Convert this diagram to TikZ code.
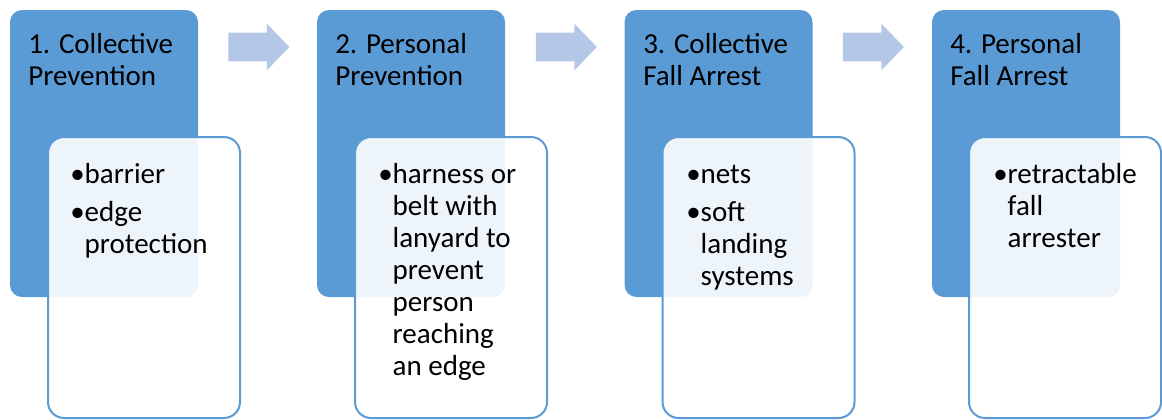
\documentclass[tikz,border=0pt]{standalone}
\usepackage{fontspec}
\setmainfont{Carlito}
\usepackage{tikz}
\usetikzlibrary{shapes.arrows, positioning}
\definecolor{stageblue}{HTML}{5B9BD5}
\definecolor{flowblue}{HTML}{B4C7E7}
\tikzset{
  stage/.style={fill=stageblue, rounded corners=9pt, minimum width=141pt, minimum height=215.25pt, inner sep=0pt},
  detail/.style={draw=stageblue, line width=1.5pt, fill=white, fill opacity=0.9, rounded corners=12pt, minimum width=144pt, minimum height=210.75pt, inner sep=0pt},
  headtext/.style={anchor=base west, inner sep=0pt, font=\fontsize{21.75}{24}\selectfont},
  itemtext/.style={anchor=base west, inner sep=0pt, font=\fontsize{21.75}{24}\selectfont},
  flow/.style={single arrow, fill=flowblue, minimum height=45.75pt, single arrow head extend=6.75pt, single arrow tip angle=92, inner sep=0pt}
}

\begin{document}
\begin{tikzpicture}[x=0.75pt, y=-0.75pt]
\useasboundingbox (0,0) rectangle (1162,419);

% stages
\node[stage] (s1) at (104,153.5) {};
\node[stage] (s2) at (411,153.5) {};
\node[stage] (s3) at (718.5,153.5) {};
\node[stage] (s4) at (1026,153.5) {};

\node[headtext] (h1) at (28,53) {\begin{tabular}[t]{@{}l@{}}1. Collective\\Prevention\end{tabular}};
\node[headtext] (h2) at (335,53) {\begin{tabular}[t]{@{}l@{}}2. Personal\\Prevention\end{tabular}};
\node[headtext] (h3) at (643,53) {\begin{tabular}[t]{@{}l@{}}3. Collective\\Fall Arrest\end{tabular}};
\node[headtext] (h4) at (950,53) {\begin{tabular}[t]{@{}l@{}}4. Personal\\Fall Arrest\end{tabular}};

% details
\node[detail] (d1) at (144,277.5) {};
\node[detail] (d2) at (451,277.5) {};
\node[detail] (d3) at (758.5,277.5) {};
\node[detail] (d4) at (1065,277.5) {};

\node[itemtext] (i1) at (70,183) {\begin{tabular}[t]{@{}l@{}l@{}}\textbullet&barrier\\[4.5pt]
  \textbullet&edge\\&protection\end{tabular}};
\node[itemtext] (i2) at (378,183) {\begin{tabular}[t]{@{}l@{}l@{}}\textbullet&harness or\\&belt with\\
  &lanyard to\\&prevent\\&person\\&reaching\\&an edge\end{tabular}};
\node[itemtext] (i3) at (686,183) {\begin{tabular}[t]{@{}l@{}l@{}}\textbullet&nets\\[4.5pt]
  \textbullet&soft\\&landing\\&systems\end{tabular}};
\node[itemtext] (i4) at (993,183) {\begin{tabular}[t]{@{}l@{}l@{}}\textbullet&retractable\\&fall\\&arrester\end{tabular}};

% arrows between stages
\node[flow] (a1) at (252,47) {\rule{0pt}{21pt}};
\node[flow] (a2) at (559.5,47) {\rule{0pt}{21pt}};
\node[flow] (a3) at (866.5,47) {\rule{0pt}{21pt}};

\end{tikzpicture}
\end{document}
